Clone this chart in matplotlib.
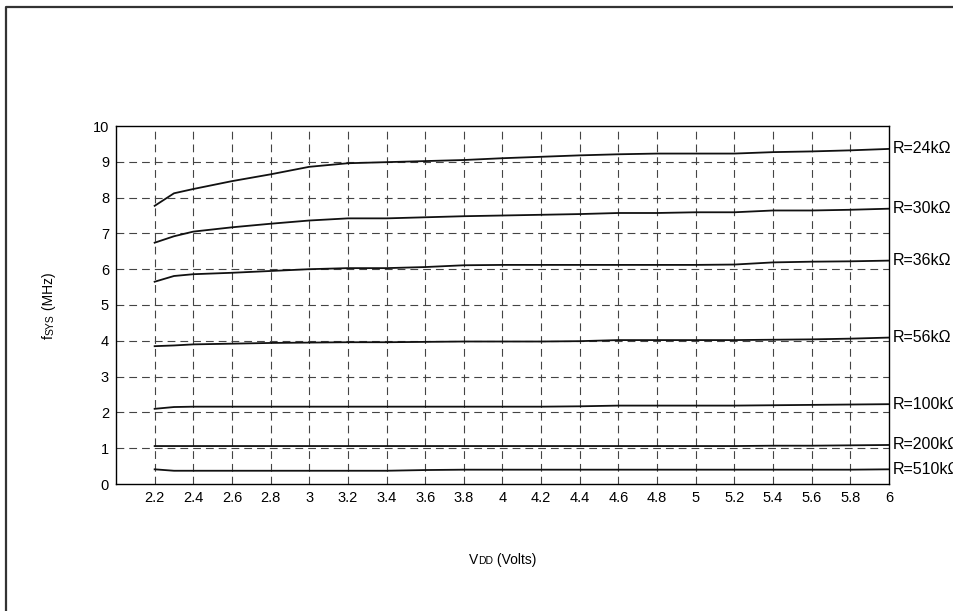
import numpy as np
import matplotlib
matplotlib.use('Agg')
import matplotlib.pyplot as plt
from matplotlib.lines import Line2D

plt.rcParams['font.family'] = ['Liberation Sans', 'DejaVu Sans']

# supply voltage (V) and oscillator frequency (MHz) for each resistor
vdd = [2.2, 2.3, 2.4, 2.6, 2.8, 3.0, 3.2, 3.4, 3.6, 3.8, 4.0,
       4.2, 4.4, 4.6, 4.8, 5.0, 5.2, 5.4, 5.6, 5.8, 6.0]
f_24k = [7.77, 8.12, 8.24, 8.46, 8.65, 8.86, 8.96, 8.99, 9.02, 9.05, 9.10,
         9.14, 9.18, 9.21, 9.23, 9.23, 9.23, 9.27, 9.29, 9.32, 9.36]
f_30k = [6.74, 6.92, 7.05, 7.17, 7.27, 7.36, 7.42, 7.42, 7.45, 7.48, 7.50,
         7.52, 7.54, 7.57, 7.57, 7.59, 7.59, 7.64, 7.64, 7.66, 7.69]
f_36k = [5.65, 5.81, 5.86, 5.90, 5.95, 6.00, 6.03, 6.03, 6.06, 6.11, 6.12,
         6.12, 6.12, 6.12, 6.12, 6.12, 6.13, 6.19, 6.21, 6.22, 6.24]
f_56k = [3.85, 3.87, 3.90, 3.92, 3.94, 3.95, 3.96, 3.96, 3.97, 3.98, 3.98,
         3.98, 3.99, 4.02, 4.02, 4.02, 4.02, 4.03, 4.04, 4.06, 4.09]
f_100k = [2.10, 2.15, 2.16, 2.16, 2.16, 2.16, 2.16, 2.16, 2.16, 2.16, 2.16,
          2.16, 2.17, 2.19, 2.19, 2.19, 2.19, 2.20, 2.21, 2.22, 2.23]
f_200k = [1.06, 1.06, 1.06, 1.06, 1.06, 1.06, 1.06, 1.06, 1.06, 1.06, 1.06,
          1.06, 1.06, 1.06, 1.06, 1.06, 1.06, 1.07, 1.07, 1.08, 1.09]
f_510k = [0.41, 0.37, 0.37, 0.37, 0.37, 0.37, 0.37, 0.37, 0.39, 0.40, 0.40,
          0.40, 0.40, 0.40, 0.40, 0.40, 0.40, 0.40, 0.40, 0.40, 0.41]
curves = [f_24k, f_30k, f_36k, f_56k, f_100k, f_200k, f_510k]
names = ['R=24k\u03a9', 'R=30k\u03a9', 'R=36k\u03a9', 'R=56k\u03a9',
         'R=100k\u03a9', 'R=200k\u03a9', 'R=510k\u03a9']

xticks = [2.2, 2.4, 2.6, 2.8, 3, 3.2, 3.4, 3.6, 3.8, 4, 4.2, 4.4, 4.6,
          4.8, 5, 5.2, 5.4, 5.6, 5.8, 6]
yticks = [0, 1, 2, 3, 4, 5, 6, 7, 8, 9, 10]

W, H = 954, 611
fig = plt.figure(figsize=(W / 100, H / 100), dpi=100)
ax = fig.add_axes([116 / W, 1 - 484 / H, (889 - 116) / W, (484 - 126) / H])

# dashed grid, skipping the lines that sit on the spines
for x in xticks[:-1]:
    ax.axvline(x, color='#444444', lw=0.8, ls=(0, (7, 4.5)), zorder=1)
for y in yticks[1:-1]:
    ax.axhline(y, color='#444444', lw=0.8, ls=(0, (7, 4.5)), zorder=1)

for f, name in zip(curves, names):
    ax.plot(vdd, f, color='#111111', lw=1.3, zorder=3)
    ax.annotate(name, (vdd[-1], f[-1]), xytext=(3, 0), textcoords='offset points',
                va='center', ha='left', fontsize=11.5, annotation_clip=False)

ax.set_xlim(2.0, 6.0)
ax.set_ylim(0, 10)
ax.set_xticks(xticks)
ax.set_xticklabels([('%g' % v) for v in xticks])
ax.set_yticks(yticks)
ax.tick_params(length=0, labelsize=10.5, pad=5)
for s in ax.spines.values():
    s.set_linewidth(1.0)
    s.set_color('black')

# axis titles with small-cap subscripts, built piece by piece
fig.canvas.draw()
r = fig.canvas.get_renderer()

def run_of_text(parts, cx, cy, rotation):
    texts = [fig.text(0, 0, txt, fontsize=size, rotation=rotation,
                      ha='left', va='baseline' if rotation == 0 else 'bottom')
             for txt, size in parts]
    sizes = [t.get_window_extent(r) for t in texts]
    if rotation == 0:
        pos = cx - sum(b.width for b in sizes) / 2
        for t, b in zip(texts, sizes):
            t.set_position((pos / W, cy / H))
            pos += b.width
    else:
        pos = cy - sum(b.height for b in sizes) / 2
        for t, b in zip(texts, sizes):
            t.set_ha('center')
            t.set_position((cx / W, pos / H))
            pos += b.height
    return texts

run_of_text([('V', 10), ('DD', 7.5), (' (Volts)', 10)], 503, H - 564, 0)
yl = run_of_text([('f', 10), ('SYS', 7.5), (' (MHz)', 10)], 49, H - 306, 90)
# keep the small caps on the same baseline as the larger letters
yl[1].set_x((49 + 1.2) / W)

# outer frame, open at right and bottom
fig.add_artist(Line2D([6 / W, 6 / W, 1], [0, 1 - 7 / H, 1 - 7 / H],
                      transform=fig.transFigure, color='#333333', lw=1.6))

fig.savefig('out.png', dpi=100)
